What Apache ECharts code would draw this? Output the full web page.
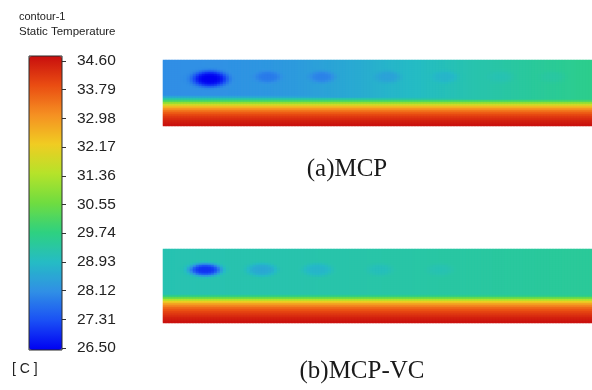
<!DOCTYPE html>
<html>
<head>
<meta charset="utf-8">
<script src="https://cdn.jsdelivr.net/npm/echarts@6/dist/echarts.min.js"></script>
<style>
  html, body { margin: 0; padding: 0; background: #ffffff; }
  #chart { width: 592px; height: 390px; }
</style>
</head>
<body>
<div id="chart"></div>
<script>
// ---- Static temperature scale (deg C) ----
const tempMin = 26.5;
const tempMax = 34.6;
const tickLabels = ['26.50', '27.31', '28.12', '28.93', '29.74', '30.55',
                    '31.36', '32.17', '32.98', '33.79', '34.60'];
// rainbow spectrum, cold -> hot
const spectrum = ['#0000f2', '#1a50f5', '#3090e5', '#25bcc4', '#2ed180', '#6fdc40',
                  '#b5e32a', '#f0cc22', '#f59022', '#ea4d12', '#c80e0e'];

// ---- Core-flow temperature along the channel: [position %, temperature] ----
const coreTempMCP = [[0, 28.1], [15, 28.15], [30, 28.3], [45, 28.6], [55, 28.85],
                     [70, 29.15], [85, 29.4], [100, 29.6]];
const coreTempVC  = [[0, 29.15], [30, 29.2], [60, 29.3], [100, 29.45]];

// ---- Heated-wall layer: temperature per row from the top (null = core flow) ----
const wallLayerMCP = [null, null, null, null, null, null, null, null, null, null,
                      null, null, null, null, null, null, null, null,
                      28.5, 29.2, 30.0, 30.9, 31.7, 32.4, 32.9, 33.3, 33.6,
                      33.85, 34.05, 34.2, 34.35, 34.45, 34.55];
const wallLayerVC  = [null, null, null, null, null, null, null, null, null, null,
                      null, null, null, null, null, null, null, null, null, null,
                      null, null, null,
                      29.6, 30.4, 31.3, 32.1, 32.7, 33.1, 33.45, 33.7, 33.9,
                      34.05, 34.2, 34.35, 34.45, 34.55];

// ---- Cold spots: [x %, y %, half-length %, half-height %, core temperature] ----
const coldSpotsMCP = [[11.0, 29.0, 4.1, 12.0, 26.5],
                      [24.5, 26.0, 3.0, 9.0, 27.85],
                      [37.1, 26.0, 3.0, 9.0, 27.95],
                      [52.4, 26.0, 3.0, 9.0, 28.45],
                      [65.7, 26.0, 3.0, 9.0, 28.8],
                      [78.6, 26.0, 3.0, 9.0, 29.15],
                      [90.7, 26.0, 3.0, 9.0, 29.35]];
const coldSpotsVC  = [[9.9, 28.4, 3.8, 8.5, 27.0],
                      [23.1, 28.4, 3.4, 8.5, 28.55],
                      [36.1, 28.4, 3.4, 8.5, 28.8],
                      [50.6, 28.4, 3.0, 8.0, 29.05],
                      [64.6, 28.4, 3.0, 8.0, 29.15]];

const fieldColumns = 143;

function coreAt(profile, xp) {
  for (let k = 1; k < profile.length; k++) {
    if (xp <= profile[k][0]) {
      const a = profile[k - 1], b = profile[k];
      return a[1] + (b[1] - a[1]) * (xp - a[0]) / (b[0] - a[0]);
    }
  }
  return profile[profile.length - 1][1];
}

// Builds [column, row, temperature] cells of one contour panel
function buildField(core, layer, spots) {
  const rows = layer.length, cells = [];
  for (let i = 0; i < fieldColumns; i++) {
    const xp = (i + 0.5) / fieldColumns * 100;
    const base = coreAt(core, xp);
    for (let j = 0; j < rows; j++) {
      const yp = (j + 0.5) / rows * 100;
      let v = base;
      spots.forEach(s => {
        const dx = (xp - s[0]) / s[2], dy = (yp - s[1]) / s[3];
        const r2 = dx * dx + dy * dy;
        const w = Math.exp(-r2 * r2);
        v = Math.min(v, base - (base - s[4]) * w);
      });
      if (layer[j] !== null) v = Math.max(v, layer[j]);
      cells.push([i, j, +v.toFixed(3)]);
    }
  }
  return cells;
}

const fieldMCP = buildField(coreTempMCP, wallLayerMCP, coldSpotsMCP);
const fieldVC  = buildField(coreTempVC, wallLayerVC, coldSpotsVC);
const colIndex = Array.from({ length: fieldColumns }, (_, i) => i);
const rowIndex = n => Array.from({ length: n }, (_, i) => i);

const sansFont = '"Liberation Sans", Arial, sans-serif';
const serifFont = '"Liberation Serif", "Times New Roman", serif';

const hidden = { show: false };
const hiddenCat = (grid, data) => ({
  type: 'category', gridIndex: grid, data: data, show: false, boundaryGap: true
});

const chart = echarts.init(document.getElementById('chart'), null, { renderer: 'canvas' });
chart.setOption({
  animation: false,
  backgroundColor: '#ffffff',
  grid: [
    // colour bar frame
    { left: 29, top: 56, width: 33, height: 294, show: true, borderColor: '#2a2a2a',
      borderWidth: 1, backgroundColor: 'transparent', z: 6 },
    // colour bar tick labels
    { left: 29, top: 61, width: 33, height: 287 },
    // (a) MCP
    { left: 163, top: 60, width: 429, height: 66 },
    // (b) MCP-VC
    { left: 163, top: 249, width: 429, height: 74 }
  ],
  xAxis: [
    hiddenCat(0, ['bar']),
    hiddenCat(1, ['bar']),
    hiddenCat(2, colIndex),
    hiddenCat(3, colIndex)
  ],
  yAxis: [
    hiddenCat(0, ['bar']),
    {
      type: 'category', gridIndex: 1, data: tickLabels, boundaryGap: false,
      position: 'right',
      axisLine: hidden,
      axisTick: { show: true, inside: false, length: 4, interval: 0,
                  lineStyle: { color: '#333', width: 1 } },
      axisLabel: { interval: 0, margin: 15, fontSize: 15.5, color: '#222',
                   fontFamily: sansFont },
      splitLine: hidden
    },
    Object.assign(hiddenCat(2, rowIndex(wallLayerMCP.length)), { inverse: true }),
    Object.assign(hiddenCat(3, rowIndex(wallLayerVC.length)), { inverse: true })
  ],
  visualMap: {
    type: 'continuous',
    min: tempMin, max: tempMax,
    seriesIndex: [0, 1],
    inRange: { color: spectrum },
    left: 29, top: 56, itemWidth: 33, itemHeight: 294, padding: 0,
    calculable: false, hoverLink: false, realtime: false,
    orient: 'vertical'
  },
  series: [
    { type: 'heatmap', name: 'MCP', xAxisIndex: 2, yAxisIndex: 2, data: fieldMCP,
      progressive: 0, itemStyle: { borderWidth: 0 }, emphasis: { disabled: true } },
    { type: 'heatmap', name: 'MCP-VC', xAxisIndex: 3, yAxisIndex: 3, data: fieldVC,
      progressive: 0, itemStyle: { borderWidth: 0 }, emphasis: { disabled: true } }
  ],
  graphic: [
    { type: 'text', x: 19, y: 17, style: { text: 'contour-1', font: '11px ' + sansFont,
      fill: '#222', textVerticalAlign: 'middle' } },
    { type: 'text', x: 19, y: 32, style: { text: 'Static Temperature', font: '11.5px ' + sansFont,
      fill: '#222', textVerticalAlign: 'middle' } },
    { type: 'text', x: 12, y: 369, style: { text: '[ C ]', font: '14px ' + sansFont,
      fill: '#222', textVerticalAlign: 'middle' } },
    { type: 'text', x: 347, y: 169, style: { text: '(a)MCP', font: '25px ' + serifFont,
      fill: '#1a1a1a', textAlign: 'center', textVerticalAlign: 'middle' } },
    { type: 'text', x: 362, y: 371, style: { text: '(b)MCP-VC', font: '25px ' + serifFont,
      fill: '#1a1a1a', textAlign: 'center', textVerticalAlign: 'middle' } }
  ]
});
</script>
</body>
</html>
